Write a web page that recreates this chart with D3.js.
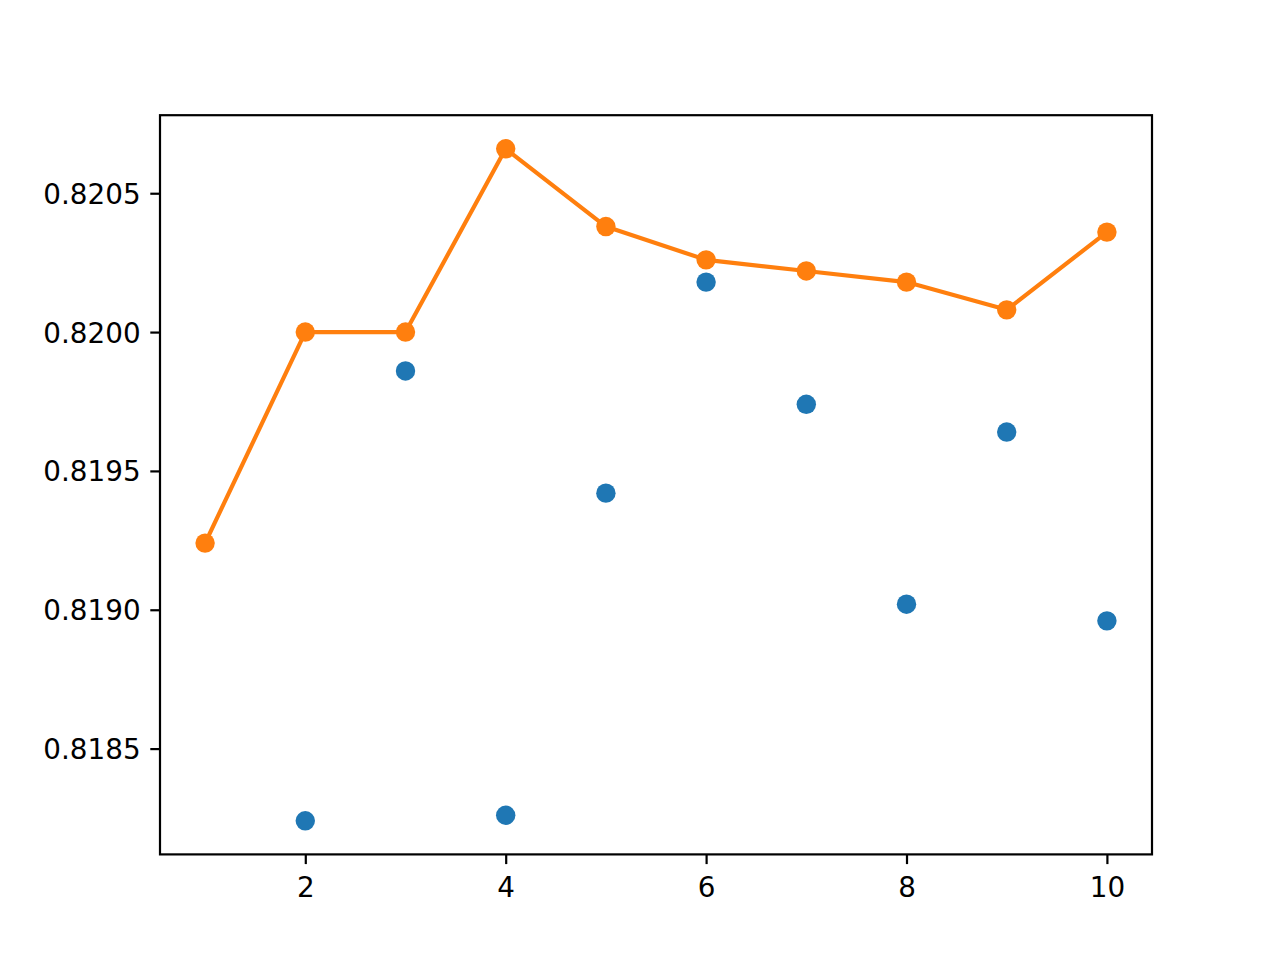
<!DOCTYPE html>
<html>
<head>
<meta charset="utf-8">
<script src="https://cdn.jsdelivr.net/npm/d3@7"></script>
<style>
  body { margin: 0; background: #fff; }
  text { font-family: "DejaVu Sans", sans-serif; }
</style>
</head>
<body>
<svg id="chart" width="1280" height="960"></svg>
<script>
// values
const xsLine = [1, 2, 3, 4, 5, 6, 7, 8, 9, 10];
const lineValues = [0.81924, 0.8200, 0.8200, 0.82066, 0.82038, 0.82026, 0.82022, 0.82018, 0.82008, 0.82036];
const xsScatter = [2, 3, 4, 5, 6, 7, 8, 9, 10];
const scatterValues = [0.81824, 0.81986, 0.81826, 0.81942, 0.82018, 0.81974, 0.81902, 0.81964, 0.81896];
const xTicks = [2, 4, 6, 8, 10];
const yTicks = [0.8185, 0.8190, 0.8195, 0.8200, 0.8205];

const margin = { left: 160, right: 128, top: 115.2, bottom: 105.6 };
const W = 1280, H = 960;
const pw = W - margin.left - margin.right;
const ph = H - margin.top - margin.bottom;

const svg = d3.select("#chart");

// matplotlib-like 5% margins
const pad = (lo, hi) => { const d = (hi - lo) * 0.05; return [lo - d, hi + d]; };
const allX = xsLine.concat(xsScatter);
const allY = lineValues.concat(scatterValues);

const x = d3.scaleLinear().domain(pad(d3.min(allX), d3.max(allX))).range([0, pw]);
const y = d3.scaleLinear().domain(pad(d3.min(allY), d3.max(allY))).range([ph, 0]);

const g = svg.append("g").attr("transform", `translate(${margin.left},${margin.top})`);

const scatterData = xsScatter.map((v, i) => ({ x: v, y: scatterValues[i] }));
const lineData = xsLine.map((v, i) => ({ x: v, y: lineValues[i] }));

g.selectAll(".dot")
  .data(scatterData)
  .enter()
  .append("circle")
  .attr("class", "dot")
  .attr("cx", (d) => x(d.x))
  .attr("cy", (d) => y(d.y))
  .attr("r", 9.7)
  .attr("fill", "#1f77b4");

const line = d3.line().x((d) => x(d.x)).y((d) => y(d.y));

g.append("path")
  .datum(lineData)
  .attr("d", line)
  .attr("fill", "none")
  .attr("stroke", "#ff7f0e")
  .attr("stroke-width", 4.17)
  .attr("stroke-linejoin", "round")
  .attr("stroke-linecap", "square");

g.selectAll(".mark")
  .data(lineData)
  .enter()
  .append("circle")
  .attr("class", "mark")
  .attr("cx", (d) => x(d.x))
  .attr("cy", (d) => y(d.y))
  .attr("r", 9.7)
  .attr("fill", "#ff7f0e");

// axes
const fmt = d3.format(".4f");
const xAxis = d3.axisBottom(x).tickValues(xTicks).tickSize(9.7).tickPadding(9.7).tickFormat(d3.format("d"));
const yAxis = d3.axisLeft(y).tickValues(yTicks).tickSize(9.7).tickPadding(9.7).tickFormat(fmt);

const gx = g.append("g").attr("transform", `translate(0,${ph})`).call(xAxis);
const gy = g.append("g").call(yAxis);

[gx, gy].forEach((a) => {
  a.select(".domain").remove();
  a.selectAll(".tick line").attr("stroke", "#000").attr("stroke-width", 2.2);
  a.selectAll(".tick text").attr("fill", "#000").style("font-size", "27.8px");
});
gx.selectAll(".tick text").attr("dy", "0.82em");
gy.selectAll(".tick text").attr("dy", "0.36em");

// frame
g.append("rect")
  .attr("width", pw)
  .attr("height", ph)
  .attr("fill", "none")
  .attr("stroke", "#000")
  .attr("stroke-width", 2.2);
</script>
</body>
</html>
